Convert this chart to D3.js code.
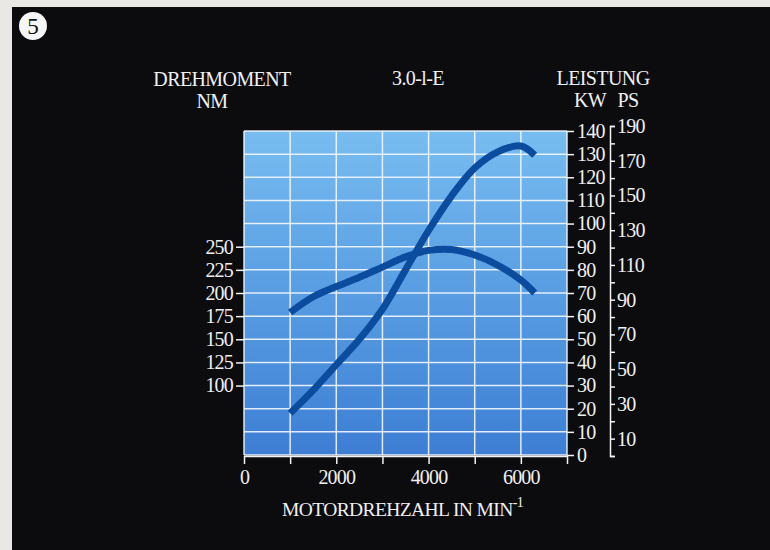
<!DOCTYPE html>
<html lang="de">
<head>
<meta charset="UTF-8">
<title>3.0-l-E Drehmoment / Leistung</title>
<script src="https://d3js.org/d3.v7.min.js"></script>
<style>
    body { margin: 0; background: #e9e8e4; }
    svg { display: block; }
    text { font-family: "Liberation Serif", serif; fill: #f0f0f0; }
    .axis path, .axis line { stroke: #f2f2f2; stroke-width: 1.5px; }
    .axis text { font-size: 20px; letter-spacing: -0.8px; fill: #f0f0f0; }
</style>
</head>
<body>
<svg width="770" height="550"></svg>
<script>
    // engine speed (1/min)
    const rpm = [1000, 1500, 2000, 2500, 3000, 3500, 4000, 4500, 5000, 5500, 6000, 6300];
    // torque in Nm
    const torque = [179, 196, 207, 217, 228, 239, 246, 247, 241, 230, 214, 200];
    // power in kW
    const power = [18, 28, 39, 50, 63, 80, 97, 112, 124, 131, 133.5, 129.5];

    const rpmTicks = [0, 1000, 2000, 3000, 4000, 5000, 6000, 7000];
    const rpmLabels = [0, 2000, 4000, 6000];
    const torqueTicks = [100, 125, 150, 175, 200, 225, 250];
    const kwTicks = d3.range(0, 141, 10);
    const psTicks = d3.range(0, 191, 10);
    const psLabels = [10, 30, 50, 70, 90, 110, 130, 150, 170, 190];

    const svg = d3.select("svg");

    // page: black print with a strip of paper at the top and left
    svg.append("rect").attr("width", 770).attr("height", 550).attr("fill", "#e9e8e4");
    svg.append("rect").attr("x", 12).attr("y", 7).attr("width", 758).attr("height", 543).attr("fill", "#0c0c0f");

    const x = d3.scaleLinear().domain([0, 7000]).range([244, 567]);
    const yK = d3.scaleLinear().domain([0, 140]).range([455, 131]);
    const yT = d3.scaleLinear().domain([25, 375]).range([455, 131]);
    const yP = d3.scaleLinear().domain([0, 190]).range([456, 126]);

    const defs = svg.append("defs");
    const grad = defs.append("linearGradient").attr("id", "bg")
        .attr("x1", 0).attr("y1", 0).attr("x2", 0).attr("y2", 1);
    grad.append("stop").attr("offset", "0%").attr("stop-color", "#78bdf0");
    grad.append("stop").attr("offset", "50%").attr("stop-color", "#589de2");
    grad.append("stop").attr("offset", "100%").attr("stop-color", "#3d7ed4");

    svg.append("rect")
        .attr("x", x(0)).attr("y", yK(140))
        .attr("width", x(7000) - x(0)).attr("height", yK(0) - yK(140))
        .attr("fill", "url(#bg)");

    // grid
    const grid = svg.append("g").attr("stroke", "#f4f8fc").attr("stroke-width", 1.5).attr("opacity", 0.9);
    grid.selectAll(".v").data(rpmTicks).enter().append("line")
        .attr("x1", d => x(d)).attr("x2", d => x(d))
        .attr("y1", yK(140)).attr("y2", yK(0));
    grid.selectAll(".h").data(kwTicks).enter().append("line")
        .attr("x1", x(0)).attr("x2", x(7000))
        .attr("y1", d => yK(d)).attr("y2", d => yK(d));

    // curves
    const torqueLine = d3.line()
        .x((d, i) => x(rpm[i]))
        .y(d => yT(d))
        .curve(d3.curveCatmullRom.alpha(0.5));
    const powerLine = d3.line()
        .x((d, i) => x(rpm[i]))
        .y(d => yK(d))
        .curve(d3.curveCatmullRom.alpha(0.5));

    svg.append("path").datum(torque)
        .attr("d", torqueLine)
        .attr("fill", "none").attr("stroke", "#0c4c9e")
        .attr("stroke-width", 7).attr("stroke-linecap", "butt");
    svg.append("path").datum(power)
        .attr("d", powerLine)
        .attr("fill", "none").attr("stroke", "#0c4c9e")
        .attr("stroke-width", 7).attr("stroke-linecap", "butt");

    // axes
    svg.append("g").attr("class", "axis")
        .attr("transform", "translate(0," + (yK(0) + 1) + ")")
        .call(d3.axisBottom(x).tickValues(rpmTicks).tickSize(8).tickSizeOuter(0).tickPadding(6)
            .tickFormat(d => rpmLabels.includes(d) ? d : ""));

    const left = svg.append("g").attr("class", "axis")
        .attr("transform", "translate(" + x(0) + ",0)")
        .call(d3.axisLeft(yT).tickValues(torqueTicks).tickSize(8).tickPadding(3));
    left.select(".domain").remove();

    const right = svg.append("g").attr("class", "axis")
        .attr("transform", "translate(" + x(7000) + ",0)")
        .call(d3.axisRight(yK).tickValues(kwTicks).tickSize(7).tickPadding(3));
    right.select(".domain").remove();

    svg.append("g").attr("class", "axis")
        .attr("transform", "translate(610,0)")
        .call(d3.axisRight(yP).tickValues(psTicks).tickSize(5).tickSizeOuter(5).tickPadding(2)
            .tickFormat(d => psLabels.includes(d) ? d : ""));

    // titles
    const title = svg.append("g").style("font-size", "20px").style("letter-spacing", "-0.6px");
    title.append("text").attr("x", 222).attr("y", 86).attr("text-anchor", "middle").text("DREHMOMENT");
    title.append("text").attr("x", 212).attr("y", 108).attr("text-anchor", "middle").text("NM");
    title.append("text").attr("x", 418).attr("y", 85).attr("text-anchor", "middle").text("3.0-l-E");
    title.append("text").attr("x", 603).attr("y", 85).attr("text-anchor", "middle").text("LEISTUNG");
    title.append("text").attr("x", 590).attr("y", 107).attr("text-anchor", "middle").text("KW");
    title.append("text").attr("x", 628).attr("y", 107).attr("text-anchor", "middle").text("PS");

    const xt = svg.append("text").attr("x", 282).attr("y", 516)
        .style("font-size", "19.5px").style("letter-spacing", "-0.6px");
    xt.append("tspan").text("MOTORDREHZAHL IN MIN");
    xt.append("tspan").attr("dy", -9).style("font-size", "14px").text("-1");

    // page number
    svg.append("circle").attr("cx", 33).attr("cy", 26).attr("r", 14).attr("fill", "#f6f6f6");
    svg.append("text").attr("x", 33).attr("y", 34).attr("text-anchor", "middle")
        .style("font-size", "23px").style("fill", "#111").text("5");
</script>
</body>
</html>
